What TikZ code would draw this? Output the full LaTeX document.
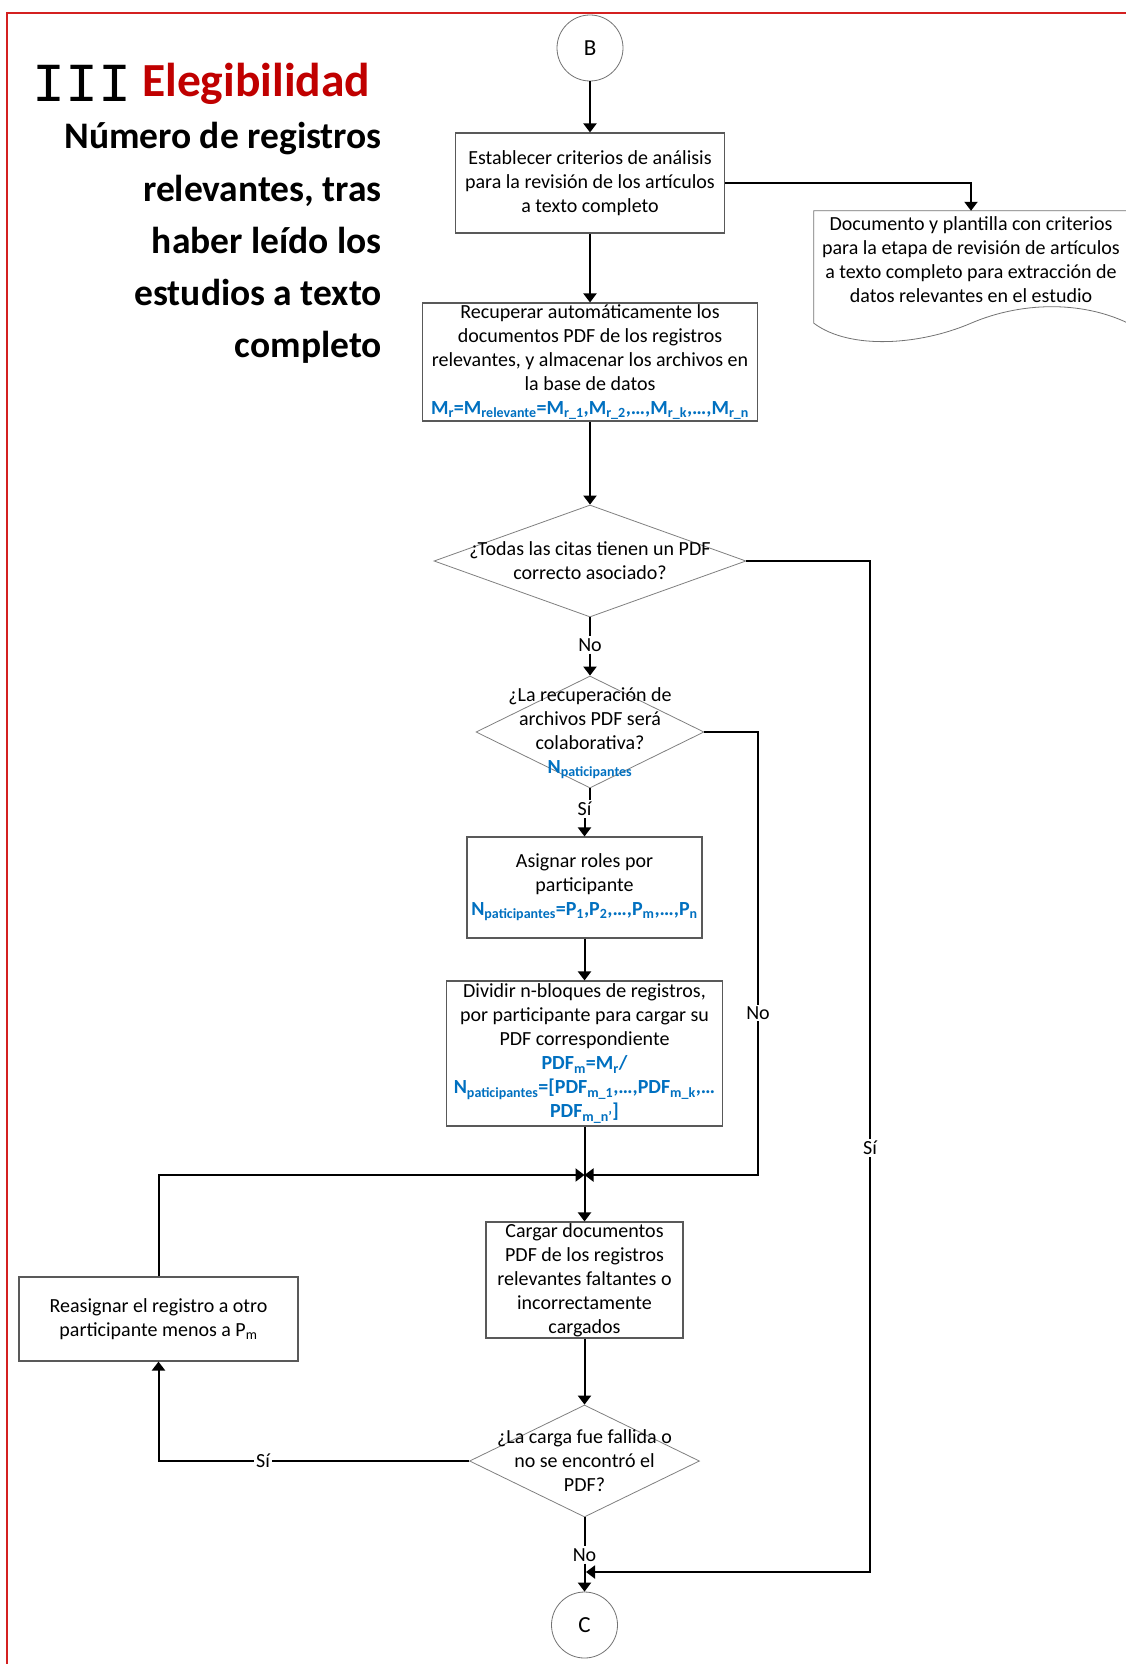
\documentclass[tikz,border=0pt]{standalone}
\usepackage{fontspec}
\setmainfont{Carlito}
\newfontfamily\romanmono{Liberation Mono}
\usetikzlibrary{arrows.meta,shapes.geometric}
\definecolor{flowblue}{RGB}{0,112,192}
\definecolor{titlered}{RGB}{192,0,0}
\definecolor{framered}{RGB}{212,32,32}
\newcommand{\bsub}[1]{\textsubscript{\bfseries #1}}
\newcommand{\bluebf}[1]{{\bfseries\color{flowblue}#1}}

\begin{document}
\begin{tikzpicture}[x=1pt,y=-1pt,
  bodyfont/.style={font=\fontsize{20}{24}\selectfont},
  procbox/.style={bodyfont, draw=black!65, line width=1.1pt, fill=white,
    inner sep=0pt, align=center},
  decision/.style={draw=black!50, line width=0.8pt, shape=diamond,
    inner sep=0pt},
  dtext/.style={bodyfont, align=center, inner sep=0pt},
  terminal/.style={font=\fontsize{23}{26}\selectfont, draw=black!55,
    line width=0.8pt, circle, minimum size=66pt, inner sep=0pt},
  conn/.style={line width=2pt, draw=black},
  arr/.style={conn, -{Triangle[length=9pt,width=13pt]}},
  lbl/.style={bodyfont, inner sep=2pt},
  lblw/.style={bodyfont, inner sep=2pt, fill=white},
  headline/.style={anchor=base east, inner sep=0pt,
    font=\bfseries\fontsize{37.5}{37.5}\selectfont}
]
\useasboundingbox (0,0) rectangle (1126,1664);
\fill[white] (0,0) rectangle (1126,1664);

% page frame
\draw[framered, line width=2.4pt] (7,13) rectangle (1145,1690);

% heading
\node[anchor=base west, inner sep=0pt,
  font=\romanmono\fontsize{55}{55}\selectfont] (roman) at (32,102) {III};
\node[anchor=base west, inner sep=0pt, text=titlered,
  font=\bfseries\fontsize{47.5}{47.5}\selectfont] (title) at (142,97) {Elegibilidad};
\foreach \txt [count=\i] in {Número de registros, {relevantes, tras},
    haber leído los, estudios a texto, completo}
  \node[headline] (head\i) at (382,{149+52*(\i-1)}) {\txt};

% nodes
\node[terminal] (B) at (590,48) {B};
\node[procbox, minimum width=269pt, minimum height=100pt] (b1) at (590,183)
  {Establecer criterios de análisis\\para la revisión de los artículos\\a texto completo};
\node[inner sep=0pt, minimum width=314pt, minimum height=112pt] (doc) at (971,267) {};
\node[bodyfont, align=center, inner sep=0pt] (doctext) at (971,260)
  {Documento y plantilla con criterios\\para la etapa de revisión de artículos\\a texto completo para extracción de\\datos relevantes en el estudio};
\node[procbox, minimum width=335pt, minimum height=118pt] (b2) at (590,362)
  {Recuperar automáticamente los\\documentos PDF de los registros\\relevantes, y almacenar los archivos en\\la base de datos\\
   \bluebf{M\bsub{r}=M\bsub{relevante}=M\bsub{r\_1},M\bsub{r\_2},…,M\bsub{r\_k},…,M\bsub{r\_n}}};

\node[decision, minimum width=312pt, minimum height=112pt] (d1) at (590,561) {};
\node[dtext] (d1t) at (590,561)
  {¿Todas las citas tienen un PDF\\correcto asociado?};
\node[lbl] (n1) at (590,645) {No};

\node[decision, minimum width=228pt, minimum height=112pt] (d2) at (590,732) {};
\node[dtext] (d2t) at (590,733)
  {¿La recuperación de\\archivos PDF será\\colaborativa?\\\bluebf{N\bsub{paticipantes}}};
\node[lbl] (s2) at (584.5,809) {Sí};

\node[procbox, minimum width=235pt, minimum height=101pt] (b3) at (584.5,887.5)
  {Asignar roles por\\participante\\
   \bluebf{N\bsub{paticipantes}=P\bsub{1},P\bsub{2},…,P\bsub{m},…,P\bsub{n}}};
\node[procbox, minimum width=276pt, minimum height=145pt] (b4) at (584.5,1053.5)
  {Dividir n-bloques de registros,\\por participante para cargar su\\PDF correspondiente\\
   \bluebf{PDF\bsub{m}=M\bsub{r}/}\\
   \bluebf{N\bsub{paticipantes}=[PDF\bsub{m\_1},…,PDF\bsub{m\_k},…}\\
   \bluebf{PDF\bsub{m\_n'}]}};
\coordinate (junc) at (584.5,1175);
\node[procbox, minimum width=197pt, minimum height=116pt] (b5) at (584.5,1280)
  {Cargar documentos\\PDF de los registros\\relevantes faltantes o\\incorrectamente\\cargados};
\node[procbox, minimum width=279pt, minimum height=84pt] (reas) at (158.5,1319)
  {Reasignar el registro a otro\\participante menos a P\textsubscript{m}};

\node[decision, minimum width=230pt, minimum height=112pt] (d3) at (584.5,1461) {};
\node[dtext] (d3t) at (584.5,1461)
  {¿La carga fue fallida o\\no se encontró el\\PDF?};
\node[lbl] (n3) at (584.5,1555) {No};
\node[terminal] (C) at (584.5,1625) {C};

% positions of labels on long connectors
\coordinate (s1pos) at (870,1148);
\coordinate (no2pos) at (758,1013);
\coordinate (s3pos) at (263,1461);
\coordinate (cjoin) at (586,1572);

% document shape with wavy lower edge
\draw[draw=black!55, line width=0.8pt]
  (doc.south east) -- (doc.north east) -- (doc.north west) -- (doc.south west)
  .. controls +(36,27) and +(-51,22) .. (doc.south)
  .. controls +(49,-21) and +(-48,-23) .. (doc.south east);

% connectors
\draw[arr] (B.south) -- (b1.north);
\draw[arr] (b1.east) -| (doc.north);
\draw[arr] (b1.south) -- (b2.north);
\draw[arr] (b2.south) -- (d1.north);
\draw[conn] (d1.south) -- (n1.north);
\draw[arr] (n1.south) -- (d2.north);
\draw[arr] (d1.east) -| (s1pos) |- (cjoin);
\draw[conn] (d2.south) -- (d2.south |- s2.north);
\draw[arr] (s2.south) -- (b3.north);
\draw[arr] (d2.east) -| (no2pos) |- (junc);
\draw[arr] (b3.south) -- (b4.north);
\draw[conn] (b4.south) -- (junc);
\draw[arr] (reas.north) |- (junc);
\draw[arr] (junc) -- (b5.north);
\draw[arr] (b5.south) -- (d3.north);
\draw[arr] (d3.west) -| (reas.south);
\draw[conn] (d3.south) -- (n3.north);
\draw[arr] (n3.south) -- (C.north);

% labels lying on connectors
\node[lblw] (s1) at (s1pos) {Sí};
\node[lblw] (no2) at (no2pos) {No};
\node[lblw] (s3) at (s3pos) {Sí};
\end{tikzpicture}
\end{document}
